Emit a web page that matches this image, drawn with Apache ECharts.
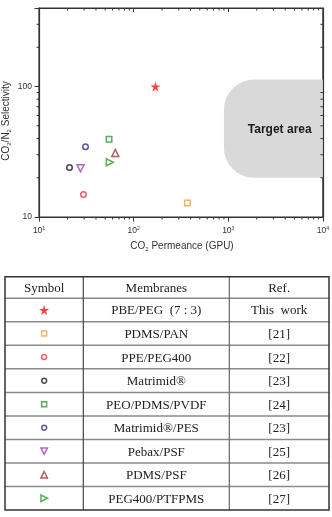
<!DOCTYPE html>
<html>
<head>
<meta charset="utf-8">
<script src="https://cdn.jsdelivr.net/npm/echarts@6/dist/echarts.min.js"></script>
<style>
  html, body { margin: 0; padding: 0; background: #fff; }
  #main { width: 332px; height: 517px; }
</style>
</head>
<body>
<div id="main"></div>
<script>
// membranes (table order)
const membranes = ['PBE/PEG  (7 : 3)', 'PDMS/PAN', 'PPE/PEG400', 'Matrimid®', 'PEO/PDMS/PVDF',
  'Matrimid®/PES', 'Pebax/PSF', 'PDMS/PSF', 'PEG400/PTFPMS']
const refs = ['This  work', '[21]', '[22]', '[23]', '[24]', '[23]', '[25]', '[26]', '[27]']
// CO2 permeance (GPU) and CO2/N2 selectivity
const permeance = [170, 370, 29.5, 21, 55, 31, 27.5, 64, 56]
const selectivity = [100, 12.8, 14.9, 24, 39.5, 34.5, 23.6, 31, 26.3]
const colors = ['#ff1010', '#f0a040', '#e83838', '#1a1a1a', '#2c9a2c', '#2a2a90', '#a040b0', '#a03434', '#30a030']
const STAR = 'path://M50,0 L61,35 L98,35 L68,57 L79,91 L50,70 L21,91 L32,57 L2,35 L39,35 Z'
const symbols = [STAR, 'rect', 'circle', 'circle', 'rect', 'circle', 'triangle', 'triangle', 'triangle']
const rotates = [0, 0, 0, 0, 0, 0, 180, 0, -90]
// target area: [xmin, ymin, xmax, ymax]
const target = [900, 20, 10000, 113]
const targetLabelAt = [3500, 47]
// minor ticks
const xMinor = [20, 30, 40, 50, 60, 70, 80, 90, 200, 300, 400, 500, 600, 700, 800, 900,
  2000, 3000, 4000, 5000, 6000, 7000, 8000, 9000]
const yMinor = [20, 30, 40, 50, 60, 70, 80, 90, 200, 300]

const chart = echarts.init(document.getElementById('main'))

function marker(i, big, small) {
  const filled = i === 0
  return {
    symbol: symbols[i],
    symbolSize: filled ? big : small,
    symbolRotate: rotates[i],
    itemStyle: {
      color: filled ? colors[i] : 'rgba(0,0,0,0)',
      borderColor: colors[i],
      borderWidth: filled ? 0 : 1.5
    }
  }
}

const plotPoints = permeance.map((x, i) => Object.assign({ value: [x, selectivity[i]] }, marker(i, 10, i >= 6 ? 7 : 5.5)))
const tablePoints = membranes.map((m, i) => Object.assign({ value: [0, i] }, marker(i, 10, i >= 6 ? 6.5 : 5)))

// table geometry
const tL = 5, tR = 329, c1 = 83.3, c2 = 229.3, tTop = 276.7, hdrB = 298.3, tBot = 510
const rowH = (tBot - hdrB) / membranes.length
const serif = '"Liberation Serif", "Times New Roman", serif'
const sans = '"Liberation Sans", Arial, sans-serif'
const graphics = []
const hdr = ['Symbol', 'Membranes', 'Ref.']
const colCenters = [(tL + c1) / 2, (c1 + c2) / 2, (c2 + tR) / 2]
hdr.forEach((t, k) => graphics.push({ type: 'text', x: colCenters[k], y: (tTop + hdrB) / 2 + 1,
  style: { text: t, font: '13px ' + serif, fill: '#222', align: 'center', verticalAlign: 'middle' } }))
membranes.forEach((m, i) => {
  const cy = hdrB + rowH * (i + 0.5) + 1
  graphics.push({ type: 'text', x: colCenters[1], y: cy,
    style: { text: m, font: '13px ' + serif, fill: '#222', align: 'center', verticalAlign: 'middle' } })
  graphics.push({ type: 'text', x: colCenters[2], y: cy,
    style: { text: refs[i], font: '13px ' + serif, fill: '#222', align: 'center', verticalAlign: 'middle' } })
})
for (let i = 0; i < membranes.length; i++) {
  const y = hdrB + rowH * i
  graphics.push({ type: 'line', shape: { x1: tL, y1: y, x2: tR, y2: y }, style: { stroke: '#8a8a8a', lineWidth: 1.5 } })
}
graphics.push({ type: 'line', shape: { x1: c1, y1: tTop, x2: c1, y2: tBot }, style: { stroke: '#444', lineWidth: 1.2 } })
graphics.push({ type: 'line', shape: { x1: c2, y1: tTop, x2: c2, y2: tBot }, style: { stroke: '#666', lineWidth: 1.2 } })
graphics.push({ type: 'rect', shape: { x: tL, y: tTop, width: tR - tL, height: tBot - tTop },
  style: { fill: 'none', stroke: '#333', lineWidth: 1.5 } })
// axis names
graphics.push({ type: 'text', x: 6, y: 121, rotation: Math.PI / 2,
  style: { text: 'CO{s|2}/N{s|2} Selectivity', font: '10px ' + sans, fill: '#333',
    align: 'center', verticalAlign: 'middle',
    rich: { s: { fontSize: 6, fill: '#333', padding: [6, 0, 0, 0] } } } })
graphics.push({ type: 'text', x: 182, y: 246,
  style: { text: 'CO{s|2} Permeance (GPU)', font: '10px ' + sans, fill: '#333',
    align: 'center', verticalAlign: 'middle',
    rich: { s: { fontSize: 6, fill: '#333', padding: [6, 0, 0, 0] } } } })

const axisLineStyle = { onZero: false, lineStyle: { color: '#333', width: 1.2 } }
const tickStyle = { color: '#333', width: 1 }

function tickLine(x1, y1, x2, y2) {
  return { type: 'line', shape: { x1, y1, x2, y2 }, style: { stroke: '#333', lineWidth: 1 } }
}

const option = {
  animation: false,
  grid: [
    { left: 39, right: 7, top: 8, height: 209, show: true, borderColor: '#333', borderWidth: 1.2, backgroundColor: 'transparent' },
    { left: tL, width: c1 - tL, top: hdrB, height: tBot - hdrB }
  ],
  xAxis: [
    {
      type: 'log', min: 10, max: 10000, logBase: 10, gridIndex: 0,
      axisLine: axisLineStyle,
      axisTick: { inside: false, length: 4.5, lineStyle: tickStyle },
      splitLine: { show: false },
      axisLabel: {
        margin: 9,
        formatter: (v) => '{b|10}{s|' + Math.round(Math.log10(v)) + '}',
        rich: { b: { fontSize: 8.5, color: '#333', fontFamily: sans }, s: { fontSize: 5, color: '#333', fontFamily: sans, padding: [0, 0, 5, 0] } }
      }
    },
    {
      type: 'log', min: 10, max: 10000, gridIndex: 0, position: 'top',
      axisLine: axisLineStyle,
      axisTick: { inside: true, length: 4, lineStyle: tickStyle },
      axisLabel: { show: false }, splitLine: { show: false }
    },
    { type: 'category', data: ['s'], gridIndex: 1, show: false }
  ],
  yAxis: [
    {
      type: 'log', min: 10, max: 400, gridIndex: 0,
      axisLine: axisLineStyle,
      axisTick: { inside: false, length: 4.5, lineStyle: tickStyle },
      splitLine: { show: false },
      axisLabel: {
        margin: 7, fontSize: 8.5, color: '#333', fontFamily: sans,
        formatter: (v) => (Math.abs(Math.log10(v) - Math.round(Math.log10(v))) < 1e-6 ? String(Math.round(v)) : '')
      }
    },
    {
      type: 'log', min: 10, max: 400, gridIndex: 0, position: 'right',
      axisLine: axisLineStyle,
      axisTick: { inside: true, length: 4, lineStyle: tickStyle },
      axisLabel: { show: false }, splitLine: { show: false }
    },
    { type: 'category', data: membranes, inverse: true, gridIndex: 1, show: false }
  ],
  graphic: graphics,
  series: [
    {
      type: 'custom', xAxisIndex: 0, yAxisIndex: 0, z: 1,
      data: [target],
      renderItem: (params, api) => {
        const p0 = api.coord([api.value(0), api.value(3)])
        const p1 = api.coord([api.value(2), api.value(1)])
        const lab = api.coord(targetLabelAt)
        return {
          type: 'group',
          children: [
            { type: 'rect', shape: { x: p0[0], y: p0[1], width: p1[0] - p0[0], height: p1[1] - p0[1], r: [30, 0, 0, 30] },
              style: { fill: '#d9d9d9' } },
            { type: 'text', x: lab[0], y: lab[1],
              style: { text: 'Target area', font: 'bold 12px ' + sans, fill: '#1a1a1a', align: 'center', verticalAlign: 'middle' } }
          ]
        }
      }
    },
    {
      // x minor ticks: outward at bottom, inward at top
      type: 'custom', xAxisIndex: 0, yAxisIndex: 0, z: 3, clip: false,
      data: xMinor.map(v => [v, 10]),
      renderItem: (params, api) => {
        const p = api.coord([api.value(0), api.value(1)])
        const q = api.coord([api.value(0), 400])
        return { type: 'group', children: [
          tickLine(p[0], p[1], p[0], p[1] + 2.5),
          tickLine(q[0], q[1], q[0], q[1] + 2.5)
        ] }
      }
    },
    {
      // y minor ticks: outward at left, inward at right
      type: 'custom', xAxisIndex: 0, yAxisIndex: 0, z: 3, clip: false,
      data: yMinor.map(v => [10, v]),
      renderItem: (params, api) => {
        const p = api.coord([api.value(0), api.value(1)])
        const q = api.coord([10000, api.value(1)])
        return { type: 'group', children: [
          tickLine(p[0], p[1], p[0] - 2.5, p[1]),
          tickLine(q[0], q[1], q[0] - 2.5, q[1])
        ] }
      }
    },
    {
      type: 'scatter', xAxisIndex: 0, yAxisIndex: 0, z: 5,
      data: plotPoints
    },
    {
      type: 'scatter', xAxisIndex: 2, yAxisIndex: 2, z: 5,
      data: tablePoints
    }
  ]
}
chart.setOption(option)
</script>
</body>
</html>
